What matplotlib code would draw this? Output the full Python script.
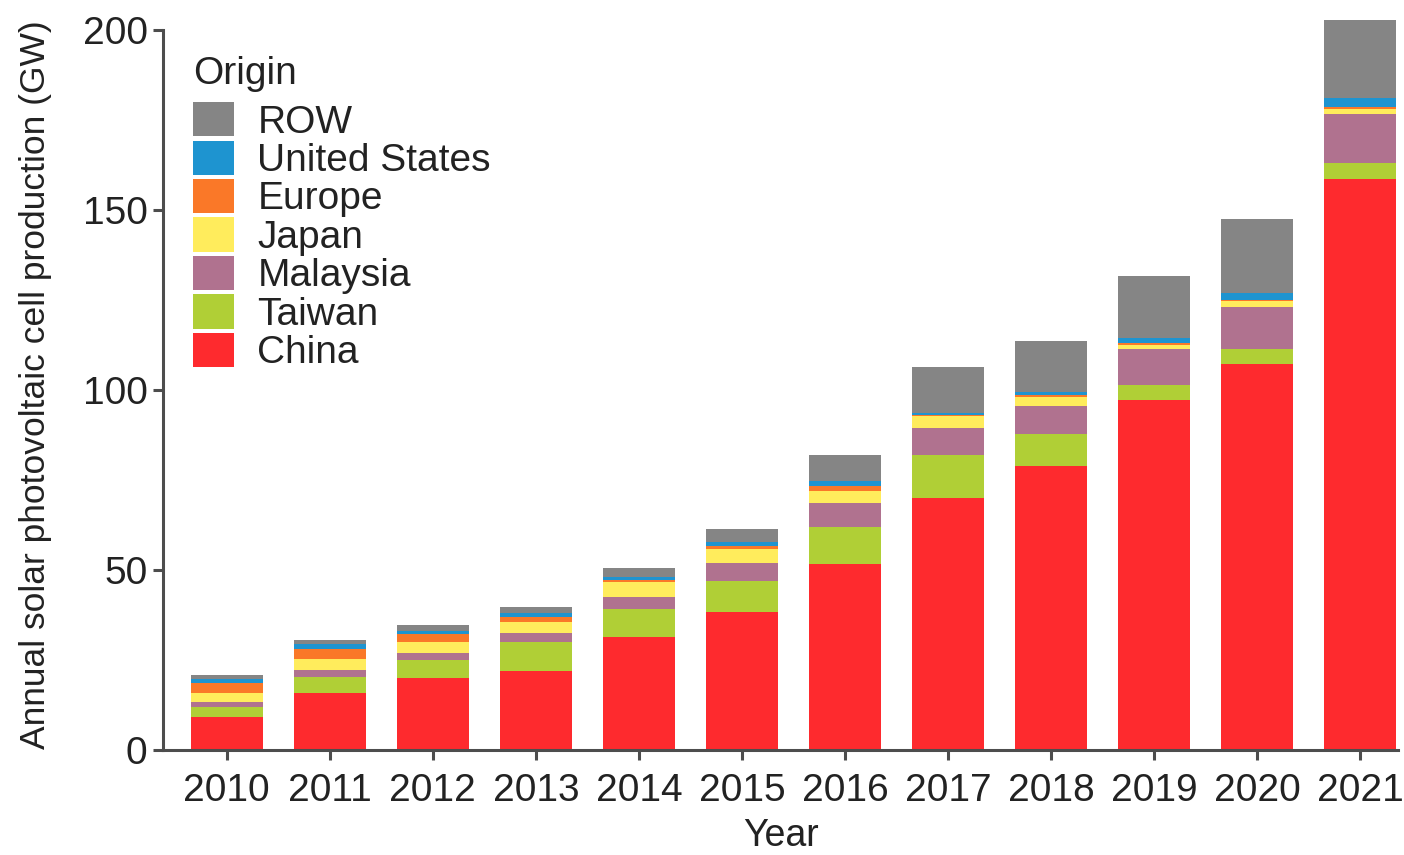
import numpy as np
import matplotlib
matplotlib.use("Agg")
from matplotlib import pyplot as plt

plt.rcParams['font.family'] = ['Liberation Sans', 'DejaVu Sans']

years = ["2010", "2011", "2012", "2013", "2014", "2015", "2016",
         "2017", "2018", "2019", "2020", "2021"]

# GW per origin (bottom to top)
china    = [9.0, 15.8, 19.9, 21.9, 31.4, 38.3, 51.7, 70.0, 78.9, 97.1, 107.2, 158.5]
taiwan   = [2.9, 4.4, 5.1, 8.0, 7.8, 8.7, 10.2, 11.9, 8.7, 4.2, 4.2, 4.4]
malaysia = [1.4, 2.1, 1.9, 2.5, 3.3, 4.9, 6.6, 7.5, 8.0, 10.0, 11.7, 13.7]
japan    = [2.6, 2.8, 3.0, 3.2, 4.1, 3.8, 3.5, 3.2, 2.3, 1.2, 1.4, 1.3]
europe   = [2.6, 2.8, 2.2, 1.2, 0.6, 1.0, 1.3, 0.5, 0.5, 0.5, 0.5, 0.6]
usa      = [1.3, 1.4, 1.0, 1.1, 0.9, 1.0, 1.3, 0.4, 1.1, 1.4, 1.9, 2.4]
row      = [0.9, 1.2, 1.7, 1.9, 2.5, 3.7, 7.3, 12.7, 13.9, 17.3, 20.6, 21.7]

series = [china, taiwan, malaysia, japan, europe, usa, row]
labels = ["China", "Taiwan", "Malaysia", "Japan", "Europe", "United States", "ROW"]
colors = ["#fe2a2e", "#b0cf36", "#b0728f", "#ffec5c", "#fa7828", "#1e94d0", "#858585"]

fig = plt.figure(figsize=(14.04, 8.55), dpi=100)
ax = fig.add_axes([0.116, 0.123, 0.88, 0.855])

x = np.arange(len(years))
bottom = np.zeros(len(years))
handles = []
for vals, lab, col in zip(series, labels, colors):
    h = ax.bar(x, vals, 0.7, bottom=bottom, color=col, label=lab, linewidth=0)
    handles.append(h)
    bottom = bottom + np.array(vals)

ax.set_xlim(-0.62, 11.37)
ax.set_ylim(0, 203)
ax.set_yticks([0, 50, 100, 150, 200])
ax.set_xticks(x)
ax.set_xticklabels(years)

for s in ["top", "right"]:
    ax.spines[s].set_visible(False)
for s in ["left", "bottom"]:
    ax.spines[s].set_color("#4d4d4d")
    ax.spines[s].set_linewidth(2.2)
ax.spines["left"].set_bounds(0, 200)
ax.tick_params(axis="both", colors="#4d4d4d", width=2.2, length=7,
               labelsize=28, labelcolor="#222222", pad=4)
ax.tick_params(axis="x", pad=10)

ax.set_xlabel("Year", fontsize=27, color="#222222", labelpad=6)
ax.set_ylabel("Annual solar photovoltaic cell production (GW)", fontsize=25.5,
              color="#222222", labelpad=22)

leg = ax.legend(handles[::-1], labels[::-1], title="Origin", loc="upper left",
                bbox_to_anchor=(0.012, 0.97), frameon=False, fontsize=28,
                title_fontsize=28, handlelength=1.05, handleheight=0.98,
                labelspacing=0.0, handletextpad=0.6, borderaxespad=0)
leg._legend_box.align = "left"
leg._legend_box.sep = 7
for t in leg.get_texts():
    t.set_color("#222222")
leg.get_title().set_color("#222222")

fig.savefig("out.png", dpi=100)
